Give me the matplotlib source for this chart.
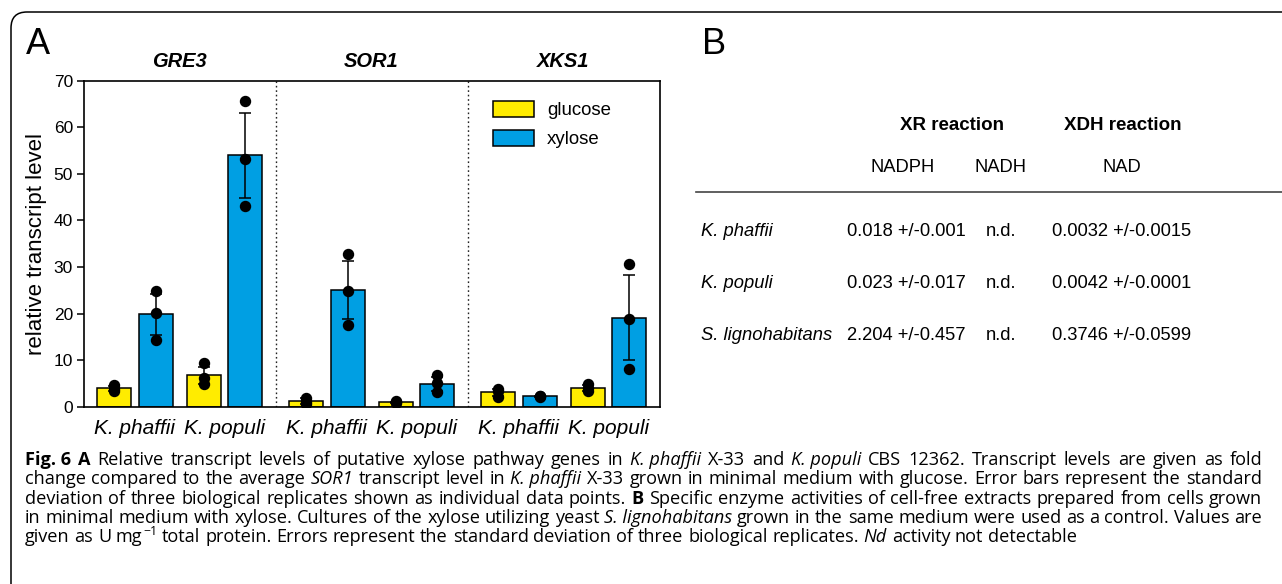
import re
import matplotlib
matplotlib.use("Agg")
import matplotlib.pyplot as plt
from matplotlib.patches import FancyBboxPatch, Patch
from matplotlib.lines import Line2D
from matplotlib.transforms import IdentityTransform, blended_transform_factory

W, H = 1282, 584

# ---- panel A data (fold change) ----
genes = ["GRE3", "SOR1", "XKS1"]
species = ["K. phaffii", "K. populi"]
conditions = ["glucose", "xylose"]

# order per gene: K. phaffii glucose, K. phaffii xylose, K. populi glucose, K. populi xylose
means = {
    "GRE3": [3.95, 19.8, 6.7, 54.0],
    "SOR1": [1.25, 25.0, 0.95, 4.9],
    "XKS1": [3.1, 2.2, 4.0, 19.1],
}
sds = {
    "GRE3": [0.6, 4.4, 1.8, 9.1],
    "SOR1": [0.6, 6.2, 0.15, 1.5],
    "XKS1": [0.8, 0.15, 0.7, 9.1],
}
replicates = {
    "GRE3": [[4.6, 3.8, 3.4], [24.8, 20.2, 14.3], [9.4, 6.1, 4.9], [65.6, 53.1, 43.2]],
    "SOR1": [[1.9, 1.1, 0.6], [32.8, 24.8, 17.5], [1.2, 1.0, 0.9], [6.8, 5.0, 3.1]],
    "XKS1": [[3.8, 3.4, 2.1], [2.4, 2.2, 2.1], [4.9, 4.1, 3.3], [30.6, 18.8, 8.2]],
}
yticks = [0, 10, 20, 30, 40, 50, 60, 70]

# ---- panel B data ----
strains = ["K. phaffii", "K. populi", "S. lignohabitans"]
nadph = ["0.018 +/-0.001", "0.023 +/-0.017", "2.204 +/-0.457"]
nadh = ["n.d.", "n.d.", "n.d."]
nad = ["0.0032 +/-0.0015", "0.0042 +/-0.0001", "0.3746 +/-0.0599"]

# ^^ marks a superscript token
caption = [
    "**Fig. 6** **A** Relative transcript levels of putative xylose pathway genes in _K. phaffii_ X-33 and _K. populi_ CBS 12362. Transcript levels are given as fold",
    "change compared to the average _SOR1_ transcript level in _K. phaffii_ X-33 grown in minimal medium with glucose. Error bars represent the standard",
    "deviation of three biological replicates shown as individual data points. **B** Specific enzyme activities of cell-free extracts prepared from cells grown",
    "in minimal medium with xylose. Cultures of the xylose utilizing yeast _S. lignohabitans_ grown in the same medium were used as a control. Values are",
    "given as U mg^^\u22121 total protein. Errors represent the standard deviation of three biological replicates. _Nd_ activity not detectable",
]

YELLOW = "#FFEC00"
BLUE = "#009FE3"
CAP_FONT = "Open Sans"

plt.rcParams["font.family"] = ["Liberation Sans", "DejaVu Sans"]


def fx(x):
    return x / W


def fy(y):
    return 1 - y / H


fig = plt.figure(figsize=(W / 100, H / 100), dpi=100)

# rounded panel frame (runs off the right / bottom edge)
frame = FancyBboxPatch((11, -30), 1400, H - 12 + 30,
                       boxstyle="round,pad=0,rounding_size=16",
                       transform=IdentityTransform(), fill=False,
                       ec="black", lw=1.1)
fig.add_artist(frame)

# ---- panel A ----
ax = fig.add_axes([fx(84), fy(406.7), 576 / W, 326 / H])
G, S, C, X0, BW = 192, 89.5, 41.5, 30, 34
colors = [YELLOW, BLUE]

for g, gene in enumerate(genes):
    for k in range(4):
        s, c = divmod(k, 2)
        x = X0 + g * G + s * S + c * C
        ax.bar(x, means[gene][k], width=BW, color=colors[c],
               edgecolor="black", lw=1.1, zorder=2)
        ax.errorbar(x, means[gene][k], yerr=sds[gene][k], fmt="none",
                    ecolor="black", elinewidth=1.1, capsize=4.5,
                    capthick=1.1, zorder=3)
        ax.plot([x] * len(replicates[gene][k]), replicates[gene][k], "o",
                color="black", ms=7.2, zorder=4)
    if g > 0:
        ax.axvline(g * G, color="#222222", lw=1.0, ls=(0, (1.2, 2.0)), zorder=1)
    trans = blended_transform_factory(ax.transData, ax.transAxes)
    ax.text(X0 + g * G + (S + C) / 2, 1.06, gene, transform=trans,
            ha="center", va="center", fontsize=14.5, fontweight="bold",
            fontstyle="italic")

ax.set_xlim(0, 3 * G)
ax.set_ylim(0, 70)
ax.set_yticks(yticks)
xt = [X0 + g * G + s * S + C / 2 for g in range(3) for s in range(2)]
ax.set_xticks(xt)
ax.set_xticklabels(species * 3, fontstyle="italic", fontsize=15)
ax.tick_params(axis="x", length=0, pad=9)
ax.tick_params(axis="y", length=5, width=1.1, labelsize=12.5, pad=3)
for sp in ax.spines.values():
    sp.set_linewidth(1.2)
ax.set_ylabel("relative transcript level", fontsize=16, labelpad=5)

handles = [Patch(facecolor=colors[i], edgecolor="black", lw=1.1, label=conditions[i])
           for i in range(2)]
ax.legend(handles=handles, loc="upper left", bbox_to_anchor=(fx(493), fy(101)),
          bbox_transform=fig.transFigure, frameon=False, borderpad=0,
          borderaxespad=0, handlelength=2.2, handleheight=0.95,
          handletextpad=0.7, labelspacing=0.55, fontsize=13.4)

fig.text(fx(26), fy(54), "A", fontsize=26, va="baseline")
fig.text(fx(702), fy(54), "B", fontsize=26, va="baseline")

# ---- panel B table ----
fig.text(fx(952), fy(126), "XR reaction", ha="center", va="center",
         fontsize=13.5, fontweight="bold")
fig.text(fx(1123), fy(126), "XDH reaction", ha="center", va="center",
         fontsize=13.5, fontweight="bold")
for label, xc in zip(["NADPH", "NADH", "NAD"], [903, 1001, 1122]):
    fig.text(fx(xc), fy(168), label, ha="center", va="center", fontsize=13.2)
fig.add_artist(Line2D([fx(696), fx(1282)], [fy(192), fy(192)],
                      color="#444444", lw=1.2))
for i, yy in enumerate([231, 283, 336]):
    fig.text(fx(701), fy(yy), strains[i], ha="left", va="center",
             fontsize=13.2, fontstyle="italic")
    fig.text(fx(906), fy(yy), nadph[i], ha="center", va="center", fontsize=13.2)
    fig.text(fx(1001), fy(yy), nadh[i], ha="center", va="center", fontsize=13.2)
    fig.text(fx(1122), fy(yy), nad[i], ha="center", va="center", fontsize=13.2)

# ---- caption, justified like the journal layout ----
renderer = fig.canvas.get_renderer()
token_re = re.compile(r"\*\*(.+?)\*\*|_(.+?)_|(\S+)")


def tokens(line):
    out = []
    for b, it, r in token_re.findall(line):
        if b:
            out.append(("bold", b))
        elif it:
            out.append(("italic", it))
        else:
            out.append(("normal", r))
    return out


def text_kw(style, size):
    kw = dict(fontsize=size, fontfamily=CAP_FONT)
    if style == "bold":
        kw["fontweight"] = "bold"
    if style == "italic":
        kw["fontstyle"] = "italic"
    return kw


def width(txt, style, size):
    # a token like "mg^^-1" is the base plus a smaller raised part
    base_txt, _, sup = txt.partition("^^")
    t = fig.text(0, 0, base_txt, **text_kw(style, size))
    w = t.get_window_extent(renderer).width
    t.remove()
    if sup:
        t = fig.text(0, 0, sup, **text_kw(style, size * 0.68))
        w += t.get_window_extent(renderer).width + 1
        t.remove()
    return w


def draw(x, y, txt, style, size):
    base_txt, _, sup = txt.partition("^^")
    t = fig.text(fx(x), fy(y), base_txt, va="baseline", **text_kw(style, size))
    if sup:
        bw = t.get_window_extent(renderer).width
        fig.text(fx(x + bw + 1), fy(y - size * 0.55), sup, va="baseline",
                 **text_kw(style, size * 0.68))


CX0, CX1 = 25, 1262
base = 12.0
space = width("x x", "normal", base) - width("xx", "normal", base)
natural = []
for line in caption[:-1]:
    tk = tokens(line)
    natural.append(sum(width(t, s, base) for s, t in tk) + space * (len(tk) - 1))
cap_size = min(13.9, base * (CX1 - CX0) / max(natural) * 0.995)
space = width("x x", "normal", cap_size) - width("xx", "normal", cap_size)

for i, line in enumerate(caption):
    tk = tokens(line)
    ws = [width(t, s, cap_size) for s, t in tk]
    if i < len(caption) - 1:
        gap = (CX1 - CX0 - sum(ws)) / (len(tk) - 1)
    else:
        gap = space
    x = CX0
    y = 465 + i * 19.3
    for (s, t), w in zip(tk, ws):
        draw(x, y, t, s, cap_size)
        x += w + gap

fig.savefig("out.png", dpi=100)
